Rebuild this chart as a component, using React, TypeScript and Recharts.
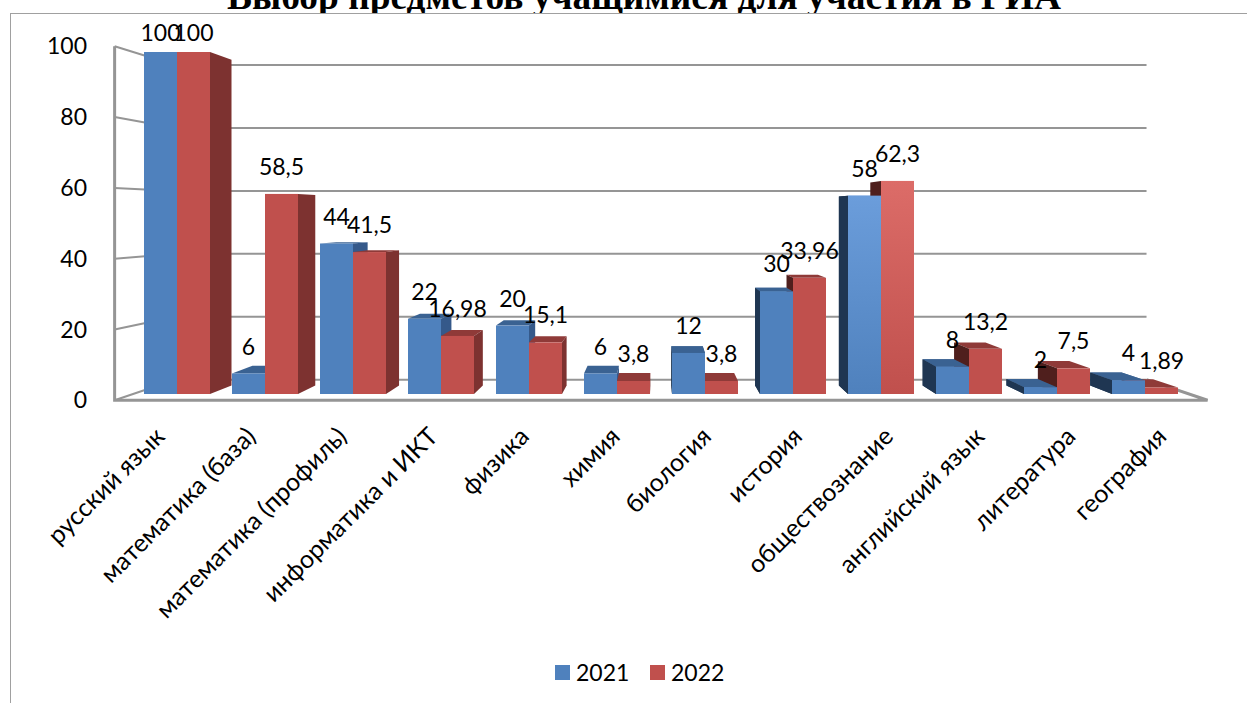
import { BarChart, Bar, XAxis, YAxis, CartesianGrid, LabelList, Legend } from 'recharts';

const subjects = [
  'русский язык', 'математика (база)', 'математика (профиль)', 'информатика и ИКТ', 'физика', 'химия',
  'биология', 'история', 'обществознание', 'английский язык', 'литература', 'география',
];
const values2021 = [100, 6, 44, 22, 20, 6, 12, 30, 58, 8, 2, 4];
const values2022 = [100, 58.5, 41.5, 16.98, 15.1, 3.8, 3.8, 33.96, 62.3, 13.2, 7.5, 1.89];
const yTicks = [0, 20, 40, 60, 80, 100];
const highlighted = 'обществознание';

const data = subjects.map((name, i) => ({ name, y2021: values2021[i], y2022: values2022[i] }));

const FONT = 'Lato, sans-serif';
const WALL = '#959595';

// vanishing point of the fake 3D view
const VPX = 658;
const VPY = 215;
const DEPTH = 0.952;
const WALL_FRONT = 1.035;
const WALL_BACK = 0.92;
const PLOT_LEFT = 133;
const PLOT_RIGHT = 1189;
const PLOT_TOP = 52;

const px = (x: number, k: number) => VPX + (x - VPX) * k;
const py = (y: number, k: number) => VPY + (y - VPY) * k;
const pts = (list: number[][]) => list.map(p => p.join(',')).join(' ');

const palette = {
  blue: { front: '#4f81bd', grad: 'url(#blueHi)', top: '#3a6292', right: '#35598a', left: '#1f3652' },
  red: { front: '#c0504d', grad: 'url(#redHi)', top: '#8f3a38', right: '#7d3230', left: '#4f1f1d' },
};

function box(x: number, y: number, w: number, h: number, c: typeof palette.blue, hi: boolean) {
  const r = x + w;
  const b = y + h;
  return (
    <g>
      {y > VPY && <polygon points={pts([[x, y], [r, y], [px(r, DEPTH), py(y, DEPTH)], [px(x, DEPTH), py(y, DEPTH)]])} fill={c.top} />}
      {r < VPX && <polygon points={pts([[r, y], [r, b], [px(r, DEPTH), py(b, DEPTH)], [px(r, DEPTH), py(y, DEPTH)]])} fill={c.right} />}
      {x > VPX && <polygon points={pts([[x, y], [x, b], [px(x, DEPTH), py(b, DEPTH)], [px(x, DEPTH), py(y, DEPTH)]])} fill={c.left} />}
      <rect x={x} y={y} width={w} height={h} fill={hi ? c.grad : c.front} />
    </g>
  );
}

function BlueBar(props: any) {
  const { x, y, width, height, payload } = props;
  return box(x, y, width, height, palette.blue, payload.name === highlighted);
}

// right of the vanishing point the blue box sits in front of the red side face
function RedBar(props: any) {
  const { x, y, width, height, payload } = props;
  const hi = payload.name === highlighted;
  const bh = (height * payload.y2021) / payload.y2022;
  return (
    <g>
      {box(x, y, width, height, palette.red, hi)}
      {x > VPX && box(x - width, y + height - bh, width, bh, palette.blue, hi)}
    </g>
  );
}

function GridLine(props: any) {
  const { y1, index } = props;
  const isFloor = y1 > 390;
  const fl = px(PLOT_LEFT, WALL_FRONT);
  const fr = px(PLOT_RIGHT, WALL_FRONT);
  const bl = px(PLOT_LEFT, WALL_BACK);
  const br = px(PLOT_RIGHT, WALL_BACK);
  return (
    <g key={index} fill="none" stroke={WALL}>
      <polyline points={pts([[fl, py(y1, WALL_FRONT)], [bl, py(y1, WALL_BACK)], [br, py(y1, WALL_BACK)]])} strokeWidth={2} />
      {isFloor && <polyline points={pts([[br, py(y1, WALL_BACK)], [fr, py(y1, WALL_FRONT)], [fl, py(y1, WALL_FRONT)], [fl, py(PLOT_TOP, WALL_FRONT)]])} strokeWidth={3} />}
    </g>
  );
}

function YTick({ y, payload }: any) {
  return (
    <text x={87} y={py(y, WALL_FRONT)} dy="0.35em" textAnchor="end" fontFamily={FONT} fontSize={23} fill="#000">
      {payload.value}
    </text>
  );
}

// category labels hang off the front edge of the floor, so they spread a bit wider than the bars
function XTick({ x, payload }: any) {
  const ex = px(x, WALL_FRONT) + 6;
  const ey = 438;
  return (
    <text x={ex} y={ey} transform={`rotate(-45 ${ex} ${ey})`} textAnchor="end" fontFamily={FONT} fontSize={25} fill="#000">
      {payload.value}
    </text>
  );
}

function valueText(cx: number, barTop: number, value: number) {
  return (
    <text x={cx} y={Math.max(barTop - 27, 33)} dy="0.35em" textAnchor="middle" fontFamily={FONT} fontSize={23} fill="#000">
      {String(value).replace('.', ',')}
    </text>
  );
}

function RedLabel({ x, y, width, value }: any) {
  return valueText(x + width / 2, y, value);
}

// blue labels are drawn with the red series so no red box covers them
function BlueLabel({ x, y, width, height, index }: any) {
  const v21 = values2021[index];
  const top = y + height - (height * v21) / values2022[index];
  return valueText(x - width / 2, top, v21);
}

function LegendBox() {
  const items = [['2021', palette.blue.front], ['2022', palette.red.front]];
  return (
    <div style={{ display: 'flex', fontFamily: FONT, fontSize: 23, lineHeight: '30px', color: '#000' }}>
      {items.map(([label, color]) => (
        <div key={label} style={{ display: 'flex', alignItems: 'center', width: 95 }}>
          <span style={{ width: 15, height: 15, background: color, marginRight: 6 }} />
          {label}
        </div>
      ))}
    </div>
  );
}

export default function App() {
  return (
    <div style={{ position: 'fixed', left: 0, top: 0, width: 1247, height: 703, background: '#fff', overflow: 'hidden' }}>
      <div style={{ position: 'absolute', left: 0, right: 0, top: -19, textAlign: 'center', paddingLeft: 41, fontFamily: '"Liberation Serif", serif', fontWeight: 700, fontSize: 37.4, lineHeight: '32px', whiteSpace: 'nowrap' }}>
        Выбор предметов учащимися для участия в ГИА
      </div>
      <div style={{ position: 'absolute', left: 0, right: 0, top: 13, height: 14, background: '#fff' }} />
      <div style={{ position: 'absolute', left: 10, top: 13, right: -4, bottom: -4, borderLeft: '1.5px solid #a0a0a0', borderTop: '1.5px solid #a0a0a0' }} />
      <div style={{ position: 'absolute', left: 0, top: 0 }}>
        <BarChart
          width={1247}
          height={703}
          data={data}
          margin={{ top: PLOT_TOP, right: 1247 - PLOT_RIGHT, bottom: 279, left: PLOT_LEFT - 30 }}
          barSize={33}
          barGap={0}
        >
          <defs>
            <linearGradient id="blueHi" x1="0" y1="0" x2="0" y2="1">
              <stop offset="0%" stopColor="#6b9ddb" />
              <stop offset="100%" stopColor="#4f81bd" />
            </linearGradient>
            <linearGradient id="redHi" x1="0" y1="0" x2="0" y2="1">
              <stop offset="0%" stopColor="#dc6c68" />
              <stop offset="100%" stopColor="#c0504d" />
            </linearGradient>
          </defs>
          <CartesianGrid vertical={false} horizontal={GridLine} />
          <XAxis dataKey="name" interval={0} height={30} axisLine={false} tickLine={false} tick={XTick} />
          <YAxis domain={[0, 100]} ticks={yTicks} width={30} axisLine={false} tickLine={false} tick={YTick} />
          <Legend
            verticalAlign="middle"
            align="center"
            content={LegendBox}
            wrapperStyle={{ left: 555, top: 657, width: 200, height: 30 }}
          />
          <Bar dataKey="y2021" name="2021" fill={palette.blue.front} shape={BlueBar} isAnimationActive={false} />
          <Bar dataKey="y2022" name="2022" fill={palette.red.front} shape={RedBar} isAnimationActive={false}>
            <LabelList dataKey="y2022" content={RedLabel} />
            <LabelList dataKey="y2022" content={BlueLabel} />
          </Bar>
        </BarChart>
      </div>
    </div>
  );
}
